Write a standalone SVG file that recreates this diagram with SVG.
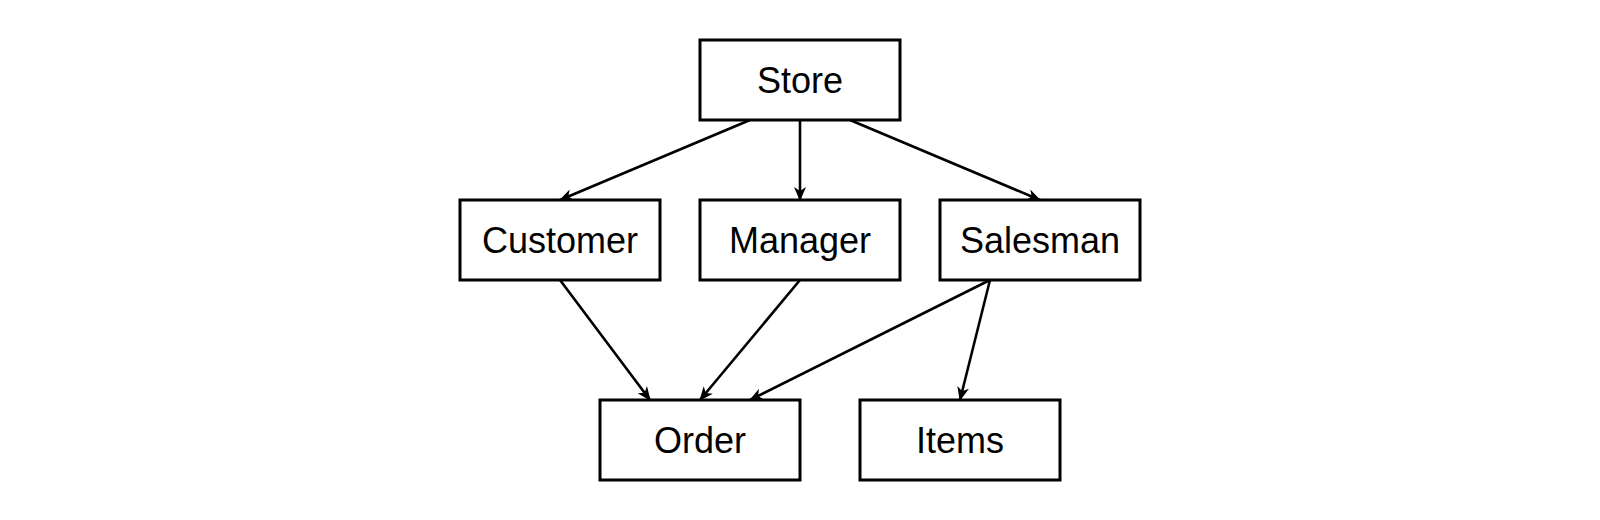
<svg xmlns="http://www.w3.org/2000/svg" width="1600" height="520" viewBox="0 0 1600 520">
<style>
.box{fill:#fff;stroke:#000;stroke-width:3}
.lbl{font-family:"Liberation Sans",Arial,sans-serif;font-size:36px;fill:#000;text-anchor:middle}
.edge{stroke:#000;stroke-width:2.6;fill:none;marker-end:url(#arr)}
</style>
<defs>
<marker id="arr" markerUnits="userSpaceOnUse" viewBox="0 0 14 12" markerWidth="14" markerHeight="12" refX="13" refY="6" orient="auto">
<path d="M0,0 L14,6 L0,12 L4,6 Z" fill="#000"/>
</marker>
</defs>
<g id="connectors">
<line class="edge" x1="750" y1="120" x2="560" y2="200"/>
<line class="edge" x1="800" y1="120" x2="800" y2="200"/>
<line class="edge" x1="850" y1="120" x2="1040" y2="200"/>
<line class="edge" x1="560" y1="280" x2="650" y2="400"/>
<line class="edge" x1="800" y1="280" x2="700" y2="400"/>
<line class="edge" x1="990" y1="280" x2="750" y2="400"/>
<line class="edge" x1="990" y1="280" x2="960" y2="400"/>
</g>
<g id="store"><rect class="box" x="700" y="40" width="200" height="80"/><text class="lbl" x="800" y="93">Store</text></g>
<g id="customer"><rect class="box" x="460" y="200" width="200" height="80"/><text class="lbl" x="560" y="253">Customer</text></g>
<g id="manager"><rect class="box" x="700" y="200" width="200" height="80"/><text class="lbl" x="800" y="253">Manager</text></g>
<g id="salesman"><rect class="box" x="940" y="200" width="200" height="80"/><text class="lbl" x="1040" y="253">Salesman</text></g>
<g id="order"><rect class="box" x="600" y="400" width="200" height="80"/><text class="lbl" x="700" y="453">Order</text></g>
<g id="items"><rect class="box" x="860" y="400" width="200" height="80"/><text class="lbl" x="960" y="453">Items</text></g>
</svg>
